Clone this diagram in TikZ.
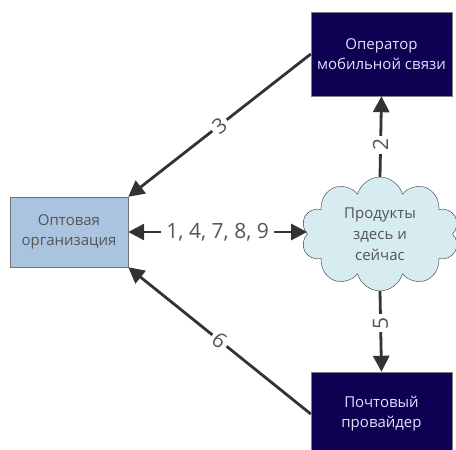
\documentclass[tikz,border=0pt]{standalone}
\usepackage{fontspec}
\setmainfont{Open Sans}
\usetikzlibrary{
  positioning,
  arrows.meta,
  shapes.symbols
}
\definecolor{navyBox}{RGB}{16,0,82}
\definecolor{paleBlue}{RGB}{170,196,224}
\definecolor{paleCyan}{RGB}{214,236,240}
\definecolor{arrowGrey}{RGB}{51,51,51}
\definecolor{textGrey}{RGB}{85,85,85}

\begin{document}
\begin{tikzpicture}[
    x=1pt,y=-1pt,
    darkNode/.style={draw=gray,fill=navyBox,text=white!88!blue,minimum width=141pt,minimum height=84pt,
      align=center,font=\fontsize{15}{20}\selectfont},
    lightNode/.style={draw=gray!90!black,fill=paleBlue,text=textGrey,minimum width=118pt,minimum height=70pt,
      align=center,font=\fontsize{15}{20}\selectfont},
    cloudNode/.style={cloud,cloud puffs=10,aspect=1.4,draw=arrowGrey,fill=paleCyan,text=textGrey,
      minimum width=158pt,minimum height=114pt,align=center,inner sep=0pt,font=\fontsize{15}{21}\selectfont},
    tip/.tip={Triangle[length=16pt,width=16pt]},
    flowArrow/.style={draw=arrowGrey,line width=2.8pt,-tip},
    numLabel/.style={fill=white,text=textGrey,inner sep=3pt,font=\fontsize{21}{24}\selectfont},
  ]
    \clip (0,0) rectangle (456,450);

    % main nodes
    \node[lightNode] (wholesale) at (69,232) {Оптовая\\организация};
    \node[cloudNode] (products) at (380,234) {Продукты\\здесь и\\сейчас};
    \node[darkNode] (operator) at (381.5,54) {Оператор\\мобильной связи};
    \node[darkNode] (post) at (381.5,414) {Почтовый\\провайдер};

    % flows between them
    \draw[flowArrow] (operator.west) -- node[numLabel,midway,sloped] {3} (wholesale.north east);
    \draw[flowArrow] (post.west) -- node[numLabel,midway,sloped] {6} (wholesale.south east);
    \draw[flowArrow] (products.north) -- node[numLabel,pos=0.4,rotate=90] {2} (operator.south);
    \draw[flowArrow] (products.south) -- node[numLabel,pos=0.4,rotate=90] {5} (post.north);
    \draw[flowArrow,tip-tip]
      (wholesale.east) -- node[numLabel,inner sep=5pt] {1, 4, 7, 8, 9} (wholesale.east -| products.west);
  \end{tikzpicture}
\end{document}
